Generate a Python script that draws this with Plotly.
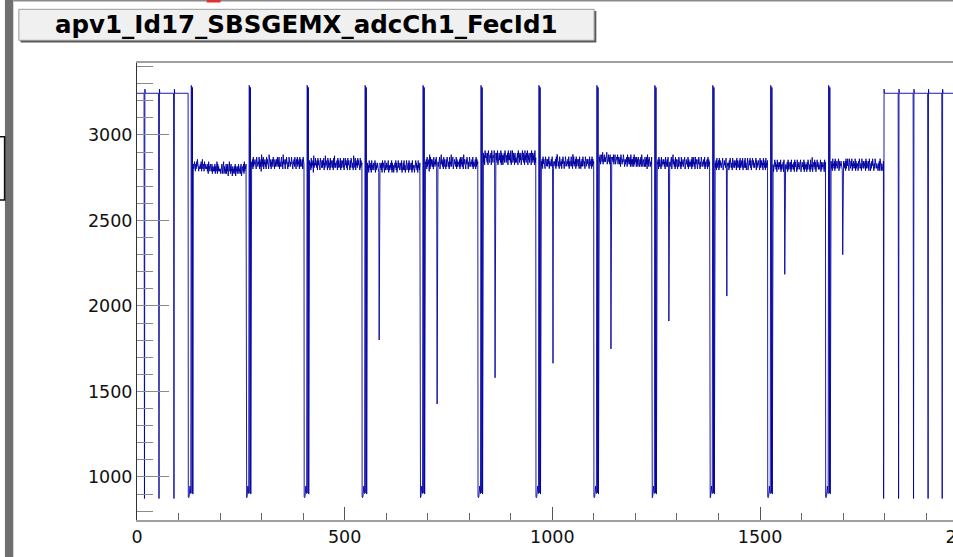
import plotly.graph_objects as go

# ---------------- data ----------------
title_text = "apv1_Id17_SBSGEMX_adcCh1_FecId1"

idle_level = 3244          # ADC level between frames
idle_overshoot = 3268      # small overshoot after each sync tick
tick_low = 874             # depth of the sync ticks
left_ticks = [18, 53, 89]                                   # sync ticks before the first frame
right_ticks = [1797.5, 1833.5, 1869.5, 1904.5, 1938.5]      # sync ticks after the last frame
frame_headers = [123.5, 263.0, 402.5, 542.0, 681.5, 821.0,
                 960.5, 1100.0, 1239.5, 1379.0, 1518.5, 1658.0]
frames_end = 1797.5
data_end = 2044
header_levels = [884, 879, 886, 940, 947, 920, 903, 3290, 3286, 907, 3278, 900]
frame_baselines = [2795, 2822, 2816, 2802, 2822, 2846, 2824, 2836, 2822, 2816, 2806, 2812]
noise_step = 14   # ADC counts per code digit, digit 4.5 = frame baseline
channel_codes = [
    ["7568647586957465", "6758469576486576", "5647385647564736", "5464736458374645",
     "4536473548364537", "3647253846374526", "3546372645364735", "4637253647384657"],
    ["5647384657463857", "4658374629574836", "5746385746395847", "3657486537465748",
     "5748364758463957", "4637584736485746", "5847365748463758", "4657384756473865"],
    ["4756384657294658", "5647385746385647", "4758364957463847", "5638475647385946",
     "4657384756483746", "5748364857463857", "4637485746395748", "3657485746384756"],
    ["5746385647384657", "4658374657463847", "5647385746384657", "4758364657483746",
     "3647584736485746", "5748365748463758", "4657384756473846", "5637485746385647"],
    ["4657384657293847", "5746385647584736", "4658374957463847", "5637485746384659",
     "4758364756483746", "5647384758463957", "4637584736485746", "5748364657384756"],
    ["5847396857483957", "4768395847693758", "5849376857493847", "3758496847583957",
     "5849376948573846", "4758396847583749", "5847395748693758", "4768395847583946"],
    ["5647385746385647", "4758364657483746", "5647384957463857", "4637584736485746",
     "5748364758463958", "4657384756473865", "3647485746385647", "5746384657384756"],
    ["6758476859476857", "5869476857486957", "6758475846576847", "5647385746584736",
     "4657384756473846", "3647384657374637", "4536473847364537", "3647284637463547"],
    ["4657384756384657", "5746385647483746", "4658374957463847", "5637485746384657",
     "4758364756483746", "5647384758463857", "4637584736485746", "5748364657384756"],
    ["5647384657384756", "4758364756483746", "5637485746385647", "4657384756473846",
     "5748365748463758", "3647584736485746", "4658374657463847", "5746385647384657"],
    ["4637485746385647", "5748364657384756", "4657384756473846", "5647385746384657",
     "4758364756483746", "5637485746384659", "3647584736485746", "4658374657463847"],
    ["5746385647384657", "4658374657463847", "5647384758463857", "4758364756483746",
     "5637485746385647", "4657384756473846", "3647584736485746", "4536473847364537"],
]
dip_channel = 29
dip_values = [None, None, None, 1801, 1427, 1580, 1665, 1749, 1912, 2058, 2185, 2300]

# ---------------- build the sample series ----------------
xs, ys = [], []


def add_idle(x_start, x_stop, ticks):
    x = x_start
    prev_tick = False
    while x < x_stop:
        is_tick = any(abs(x - t) < 0.5 for t in ticks)
        if is_tick:
            v = tick_low
        elif prev_tick:
            v = idle_overshoot
        else:
            v = idle_level
        xs.append(x)
        ys.append(v)
        prev_tick = is_tick
        x += 1


add_idle(0, frame_headers[0], left_ticks)
for f, h in enumerate(frame_headers):
    for k, v in enumerate(header_levels):
        xs.append(h + k)
        ys.append(v)
    codes = "".join(channel_codes[f])[:128]
    for i, c in enumerate(codes):
        v = frame_baselines[f] + (int(c) - 4.5) * noise_step
        if i == dip_channel and dip_values[f] is not None:
            v = dip_values[f]
        xs.append(h + len(header_levels) + i)
        ys.append(v)
add_idle(frames_end, data_end, right_ticks)

# ---------------- figure ----------------
W, H = 1000, 557
L, R, T, B = 137, 10, 63, 37
pw = W - L - R
ph = H - T - B


def px(xp):
    return (xp - L) / pw


def py(yp):
    return (H - B - yp) / ph


fig = go.Figure()
fig.add_trace(go.Scatter(x=xs, y=ys, mode="lines",
                         line=dict(color="#0000a0", width=0.9),
                         hoverinfo="skip", showlegend=False))

shapes = []
# left window strip and box (screen surroundings of the canvas)
shapes.append(dict(type="rect", xref="paper", yref="paper",
                   x0=px(4.3), x1=px(12.7), y0=py(557), y1=py(0),
                   fillcolor="#6f6f6f", line=dict(width=0), layer="above"))
shapes.append(dict(type="path", xref="paper", yref="paper",
                   path=f"M {px(-2)} {py(136.7)} L {px(4)} {py(136.7)} L {px(4)} {py(200)} L {px(-2)} {py(200)}",
                   line=dict(color="#111", width=1.6), layer="above"))
shapes.append(dict(type="rect", xref="paper", yref="paper",
                   x0=px(12.7), x1=px(1000), y0=py(1.6), y1=py(0),
                   fillcolor="#8a8a8a", line=dict(width=0), layer="above"))
shapes.append(dict(type="rect", xref="paper", yref="paper",
                   x0=px(207), x1=px(221), y0=py(2.5), y1=py(0),
                   fillcolor="#e03030", line=dict(width=0), layer="above"))
# title box with shadow
shapes.append(dict(type="rect", xref="paper", yref="paper",
                   x0=px(20), x1=px(598.5), y0=py(42.5), y1=py(11),
                   fillcolor="#5a5a5a", line=dict(width=0), layer="above"))
shapes.append(dict(type="rect", xref="paper", yref="paper",
                   x0=px(18.3), x1=px(596.3), y0=py(40.3), y1=py(9.3),
                   fillcolor="#f0f0f0", line=dict(color="#9a9a9a", width=1), layer="above"))

fig.update_layout(
    width=W, height=H,
    margin=dict(l=L, r=R, t=T, b=B, pad=0),
    paper_bgcolor="white", plot_bgcolor="white",
    showlegend=False,
    shapes=shapes,
    annotations=[dict(text=title_text, xref="paper", yref="paper",
                      x=px(307.5), y=py(24.5), xanchor="center", yanchor="middle",
                      showarrow=False,
                      font=dict(family="DejaVu Sans", size=24.5, color="black", weight="bold"))],
    xaxis=dict(range=[0, pw / 0.41733], showgrid=False, zeroline=False,
               showline=True, linecolor="#a0a0a0", linewidth=1.5, mirror=True,
               ticks="inside", ticklen=13, tickwidth=1, tickcolor="#555",
               tick0=0, dtick=500,
               minor=dict(dtick=100, tick0=0, ticks="inside", ticklen=7,
                          tickwidth=1, tickcolor="#666", showgrid=False),
               tickfont=dict(family="DejaVu Sans", size=17.5, color="#111")),
    yaxis=dict(range=[748.5, 3421], showgrid=False, zeroline=False,
               showline=True, linecolor="#333", linewidth=1, mirror=True,
               ticks="inside", ticklen=32, tickwidth=1.2, tickcolor="#8a8a8a",
               tick0=0, dtick=500,
               minor=dict(dtick=100, tick0=0, ticks="inside", ticklen=16,
                          tickwidth=1.2, tickcolor="#8a8a8a", showgrid=False),
               tickfont=dict(family="DejaVu Sans", size=17.5, color="#111")),
)

fig.write_html(
    "out.html",
    post_script="document.documentElement.style.overflow='hidden';"
                "document.body.style.overflow='hidden';document.body.style.margin='0';",
)
